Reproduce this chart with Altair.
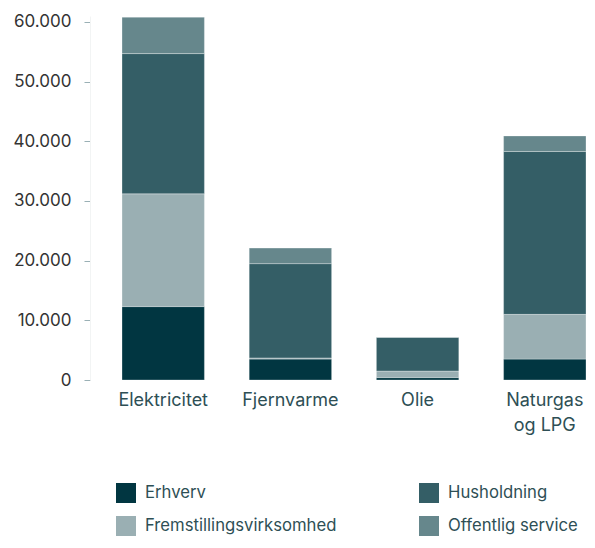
import altair as alt
import pandas as pd

categories = ["Elektricitet", "Fjernvarme", "Olie", "Naturgas\nog LPG"]
segments = ["Erhverv", "Fremstillingsvirksomhed", "Husholdning", "Offentlig service"]
erhverv = [12300, 3500, 400, 3500]
fremstilling = [18900, 200, 1100, 7500]
husholdning = [23500, 15800, 5650, 27300]
offentlig = [6100, 2600, 0, 2600]

colors = ["#013641", "#9AAFB3", "#345E66", "#66878C"]

series = [erhverv, fremstilling, husholdning, offentlig]
rows = []
for si, (seg, vals) in enumerate(zip(segments, series)):
    for cat, v in zip(categories, vals):
        rows.append({"kategori": cat, "sektor": seg, "vaerdi": v, "rang": si})
df = pd.DataFrame(rows)

FONT = "Inter"

chart = alt.Chart(df).mark_bar(stroke="white", strokeWidth=0.6, strokeOpacity=0.5).encode(
    x=alt.X("kategori:N", sort=categories, title=None,
            scale=alt.Scale(range=[32, 496], paddingInner=0.352, paddingOuter=0),
            axis=alt.Axis(labelAngle=0, labelExpr="split(datum.label, '\\n')",
                          labelFont=FONT, labelFontSize=18, labelColor="#2E4F55",
                          labelPadding=11, labelLineHeight=25, ticks=False, domain=False,
                          labelBaseline="top")),
    y=alt.Y("vaerdi:Q", stack="zero", title=None,
            scale=alt.Scale(domain=[0, 61000], nice=False),
            axis=alt.Axis(values=[0, 10000, 20000, 30000, 40000, 50000, 60000],
                          labelExpr="replace(format(datum.value, ','), ',', '.')",
                          labelFont=FONT, labelFontSize=17, labelColor="#333333",
                          tickSize=6, tickColor="#9AB0B5", labelPadding=13,
                          grid=False, domain=True, domainColor="#F2F4F4")),
    color=alt.Color("sektor:N", title=None,
                    scale=alt.Scale(domain=segments, range=colors),
                    legend=alt.Legend(orient="none", legendX=26, legendY=467,
                                      columns=2, symbolType="square", symbolSize=400,
                                      symbolStrokeWidth=0, labelFont=FONT, labelFontSize=16.7,
                                      labelColor="#2E4F55", labelOffset=9, labelLimit=0,
                                      rowPadding=13, columnPadding=82)),
    order=alt.Order("rang:Q", sort="ascending"),
).properties(
    width=497, height=364,
    autosize=alt.AutoSizeParams(type="none"),
    padding={"left": 82, "top": 8, "right": 0, "bottom": 160},
).configure_view(stroke=None)

chart.save("out.html", embed_options={"renderer": "svg", "actions": False})
